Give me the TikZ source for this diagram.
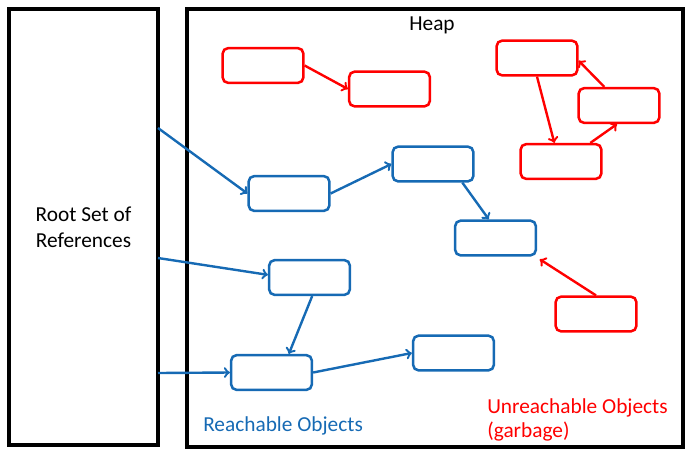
\documentclass[tikz,border=0pt]{standalone}
\usepackage{fontspec}
\setmainfont{Carlito}
\usetikzlibrary{arrows,positioning}
\definecolor{myblue}{RGB}{22,106,180}
\definecolor{myred}{RGB}{255,0,0}
\tikzstyle{region}=[draw,line width=2.3pt,inner sep=0pt]
\tikzstyle{object}=[draw,rounded corners=4pt,minimum width=60.5pt,minimum height=26pt,inner sep=0pt,line width=1.9pt]
\tikzstyle{live}=[object,draw=myblue]
\tikzstyle{dead}=[object,draw=myred]
\tikzstyle{ref}=[->,line width=1.8pt]

\begin{document}
\begin{tikzpicture}[x=0.75pt,y=-0.75pt,font=\fontsize{16}{18.5}\selectfont]
\useasboundingbox (0,0) rectangle (692,461);
\draw (83.5, 227) node [region,minimum width=111.75pt,minimum height=327pt,align=center] (root) {Root Set of\\[1pt]References};
\draw (435, 228) node [region,minimum width=372pt,minimum height=328.5pt] (heap) {};
\draw (432, 25) node (heaplabel) {Heap};
% reachable objects
\draw (289, 193.5) node [live] (b1) {};
\draw (433, 164) node [live] (b2) {};
\draw (495.5, 238) node [live] (b3) {};
\draw (309.5, 277.5) node [live] (b4) {};
\draw (271.5, 372.5) node [live] (b5) {};
\draw (453.5, 353) node [live] (b6) {};
% unreachable objects
\draw (263, 65.5) node [dead] (r1) {};
\draw (389.5, 89) node [dead] (r2) {};
\draw (537, 58) node [dead] (r3) {};
\draw (619, 105.5) node [dead] (r4) {};
\draw (561, 161.5) node [dead] (r5) {};
\draw (596, 314) node [dead] (r6) {};
% references out of the root set
\coordinate (p1) at (158, 128);
\coordinate (p2) at (158, 258);
\coordinate (p3) at (158, 373);
\draw[ref,myblue] (p1) -- (b1.west);
\draw[ref,myblue] (p2) -- ([yshift=2pt]b4.west);
\draw[ref,myblue] (p3) -- (b5.west);
\draw[ref,myblue] (b1.east) -- (b2.west);
\draw[ref,myblue] ([xshift=22pt]b2.south) -- ([xshift=-5pt]b3.north);
\draw[ref,myblue] ([xshift=2pt]b4.south) -- ([xshift=13pt]b5.north);
\draw[ref,myblue] (b5.east) -- (b6.west);
\draw[ref,myred] (r6.north) -- ([xshift=2pt,yshift=-2pt]b3.south east);
\draw[ref,myred] (r1.east) -- (r2.west);
\draw[ref,myred] (r3.south) -- ([xshift=-5pt]r5.north);
\draw[ref,myred] ([xshift=22pt]r5.north) -- ([xshift=-1.5pt]r4.south);
\draw[ref,myred] ([xshift=-11pt]r4.north) -- ([yshift=-2pt]r3.east);
% legend texts
\draw (203, 426) node [anchor=west,inner sep=0pt,text=myblue] (reach) {Reachable Objects};
\draw (487, 420) node [anchor=west,inner sep=0pt,align=left,text=myred] (unreach) {Unreachable Objects\\(garbage)};
\end{tikzpicture}
\end{document}
